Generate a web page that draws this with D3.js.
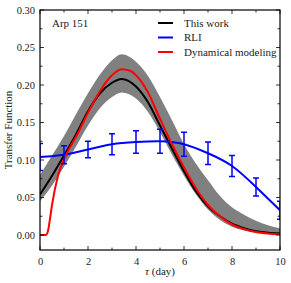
<!DOCTYPE html>
<html><head><meta charset="utf-8">
<script src="https://cdn.jsdelivr.net/npm/d3@7"></script>
<style>body{margin:0;background:#fff}svg{display:block}text{font-family:"Liberation Serif","DejaVu Serif",serif;fill:#222}</style>
</head><body><svg id="c" width="291" height="283"></svg>
<script>
// Data
const tauGrid   = [0,0.5,1,1.5,2,2.5,3,3.4,4,4.5,5,5.5,6,6.5,7,7.5,8,8.5,9,9.5,10];
const thisWork  = [0.054,0.079,0.106,0.134,0.165,0.189,0.203,0.208,0.198,0.177,0.146,0.115,0.085,0.058,0.038,0.025,0.015,0.009,0.005,0.003,0.002];
const bandLow   = [0.045,0.066,0.091,0.118,0.146,0.169,0.184,0.190,0.182,0.164,0.137,0.107,0.079,0.054,0.034,0.020,0.011,0.006,0.003,0.002,0.001];
const bandHigh  = [0.080,0.106,0.132,0.161,0.189,0.214,0.233,0.241,0.231,0.212,0.184,0.153,0.121,0.095,0.073,0.052,0.037,0.027,0.019,0.013,0.009];
const dynTau    = [0,0.25,0.3,0.35,0.4,0.5,0.75,1,1.25,1.5,2,2.5,3,3.4,3.75,4,4.5,5,5.5,6,6.5,7,7.5,8,8.5,9,9.5,10];
const dynModel  = [0,0,0.002,0.008,0.018,0.040,0.079,0.101,0.117,0.131,0.163,0.192,0.213,0.221,0.219,0.213,0.190,0.155,0.121,0.090,0.062,0.040,0.025,0.014,0.008,0.004,0.002,0.001];
const rliTau    = [0,1,2,3,4,5,6,7,8,9,10];
const rliVal    = [0.104,0.107,0.114,0.121,0.124,0.125,0.121,0.109,0.092,0.064,0.033];
const rliErr    = [0.018,0.012,0.011,0.014,0.015,0.016,0.016,0.015,0.014,0.012,0.012];
const xTicks    = [0,2,4,6,8,10];
const yTicks    = [0.00,0.05,0.10,0.15,0.20,0.25,0.30];
const legendLabels = ["This work","RLI","Dynamical modeling"];
const legendColors = ["#000","#0000ff","#ff0000"];

const svg = d3.select("#c");
const L=40,R=280,T=10,B=250;
const x = d3.scaleLinear().domain([0,10]).range([L,R]);
const y = d3.scaleLinear().domain([-0.02,0.30]).range([B,T]);

svg.append("clipPath").attr("id","cl").append("rect").attr("x",L).attr("y",T).attr("width",R-L).attr("height",B-T);
const g = svg.append("g").attr("clip-path","url(#cl)");

g.append("path").datum(tauGrid.map((t,i)=>[t,bandLow[i],bandHigh[i]]))
  .attr("fill","#808080")
  .attr("d",d3.area().x(d=>x(d[0])).y0(d=>y(d[1])).y1(d=>y(d[2])).curve(d3.curveMonotoneX));

const line = d3.line().x(d=>x(d[0])).y(d=>y(d[1])).curve(d3.curveMonotoneX);
g.append("path").datum(tauGrid.map((t,i)=>[t,thisWork[i]])).attr("fill","none").attr("stroke","#000").attr("stroke-width",2).attr("d",line);
g.append("path").datum(rliTau.map((t,i)=>[t,rliVal[i]])).attr("fill","none").attr("stroke","#0000ff").attr("stroke-width",2).attr("d",d3.line().x(d=>x(d[0])).y(d=>y(d[1])).curve(d3.curveNatural));
g.append("path").datum(dynTau.map((t,i)=>[t,dynModel[i]])).attr("fill","none").attr("stroke","#ff0000").attr("stroke-width",2).attr("d",line);

// error bars
const eb = g.append("g").attr("stroke","#0000ff").attr("stroke-width",1.5);
rliTau.forEach((t,i)=>{
  const cx=x(t), y0=y(rliVal[i]-rliErr[i]), y1=y(rliVal[i]+rliErr[i]);
  eb.append("line").attr("x1",cx).attr("x2",cx).attr("y1",y0).attr("y2",y1);
  eb.append("line").attr("x1",cx-3).attr("x2",cx+3).attr("y1",y0).attr("y2",y0);
  eb.append("line").attr("x1",cx-3).attr("x2",cx+3).attr("y1",y1).attr("y2",y1);
});

// axes (inward ticks)
const xMinor = d3.range(0,11,1);
const yMinor = d3.range(0,0.3001,0.025);
const ax = svg.append("g");
ax.append("g").attr("transform",`translate(0,${B})`).call(d3.axisBottom(x).tickValues(xTicks).tickSize(0).tickPadding(8).tickFormat(d3.format("d")));
ax.append("g").attr("transform",`translate(${L},0)`).call(d3.axisLeft(y).tickValues(yTicks).tickSize(0).tickPadding(5).tickFormat(d3.format(".2f")));
ax.selectAll(".domain").remove();
ax.selectAll("text").attr("font-size",10.5).attr("fill","#222").style("font-family","'Liberation Serif',serif");
const tk = svg.append("g").attr("stroke","#000").attr("stroke-width",0.8);
xMinor.forEach(t=>{
  const len = t%2===0?4:2.5;
  tk.append("line").attr("x1",x(t)).attr("x2",x(t)).attr("y1",B).attr("y2",B-len);
  tk.append("line").attr("x1",x(t)).attr("x2",x(t)).attr("y1",T).attr("y2",T+len);
});
yMinor.forEach((v,i)=>{
  const len = i%2===0?4:2.5;
  tk.append("line").attr("x1",L).attr("x2",L+len).attr("y1",y(v)).attr("y2",y(v));
  tk.append("line").attr("x1",R).attr("x2",R-len).attr("y1",y(v)).attr("y2",y(v));
});
svg.append("rect").attr("x",L).attr("y",T).attr("width",R-L).attr("height",B-T).attr("fill","none").attr("stroke","#000").attr("stroke-width",1.2);

// labels
svg.append("text").attr("x",52).attr("y",27).attr("font-size",11).text("Arp 151");
svg.append("text").attr("transform",`translate(12,${(T+B)/2}) rotate(-90)`).attr("text-anchor","middle").attr("font-size",11).text("Transfer Function");
svg.append("text").attr("x",(L+R)/2).attr("y",275).attr("text-anchor","middle").attr("font-size",11)
  .call(t=>{t.append("tspan").attr("font-style","italic").text("τ");t.append("tspan").text(" (day)");});

// legend
legendLabels.forEach((lab,i)=>{
  const ly = 23 + i*14.5;
  svg.append("line").attr("x1",158).attr("x2",173).attr("y1",ly).attr("y2",ly).attr("stroke",legendColors[i]).attr("stroke-width",2);
  svg.append("text").attr("x",184).attr("y",ly+3.5).attr("font-size",11).text(lab);
});
</script></body></html>
